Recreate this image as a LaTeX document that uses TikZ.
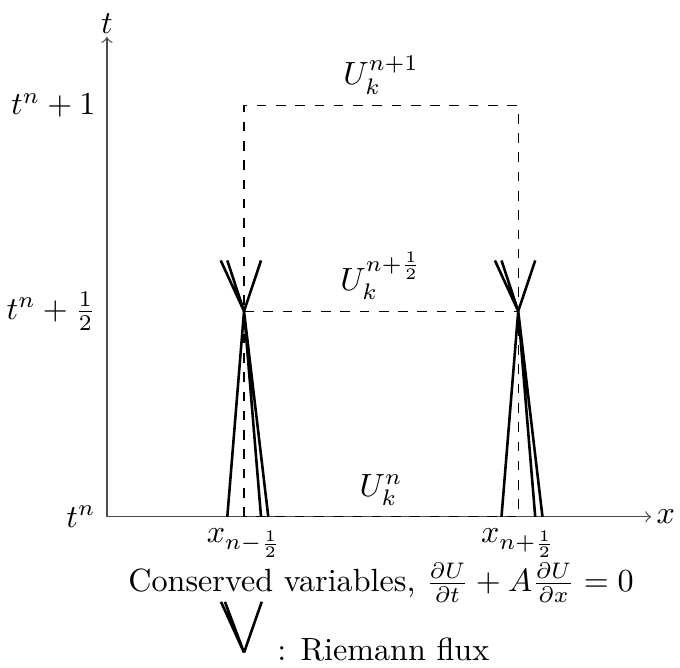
\documentclass[tikz,border=0pt]{standalone}
\usepackage{amsmath}
\begin{document}
\begin{tikzpicture}[x=1.5cm,y=1.5cm]
		\tikzset{fan/.style={thick},axis/.style={->,black!70}}
		\useasboundingbox (-0.78,-1.10) rectangle (4.18,3.77);
		\coordinate (O) at (0,0);
		\coordinate (xend) at (3.97,0);
		\coordinate (tend) at (0,3.5);
		\coordinate (L0) at (1,0); \coordinate (R0) at (3,0);
		\coordinate (L1) at (1,1.5); \coordinate (R1) at (3,1.5);
		\coordinate (L2) at (1,3); \coordinate (R2) at (3,3);
		\draw[axis] (O) -- (xend) node[right,text=black,inner sep=1.5pt]{$x$};
		\draw[axis] (O) -- (tend) node[above,text=black,inner sep=1pt]{$t$};
		\draw[dashed] (L0) -- (L2) -- (R2) -- (R0) -- cycle;
		\draw[dashed] (L1) -- (R1);
		% Riemann fans at the cell interfaces
		\foreach \p in {L1,R1}{
			\draw[fan] (\p) -- ++(-0.17,0.37) (\p) -- ++(-0.122,0.37) (\p) -- ++(0.124,0.37);
			\draw[fan] (\p) -- ++(-0.122,-1.5) (\p) -- ++(0.124,-1.5) (\p) -- ++(0.177,-1.5);
		}
		\node[left] (tn) at (O) {$t^n$};
		\node[left] (tnh) at (0,1.5) {$t^n + \frac{1}{2}$};
		\node[left] (tn1) at (0,3) {$t^n + 1$};
		\node[below] (xl) at (L0) {$x_{n-\frac{1}{2}}$};
		\node[below] (xr) at (R0) {$x_{n+\frac{1}{2}}$};
		\node[above] (Un) at (2,0) {$U_k^n$};
		\node[above] (Unh) at (2,1.5) {$U_k^{n+\frac{1}{2}}$};
		\node[above] (Un1) at (2,3) {$U_k^{n+1}$};
		\node (cons) at (2,-0.48) {Conserved variables, $\frac{\partial U}{\partial t} + A\frac{\partial U}{\partial x} = 0$};
		% legend
		\coordinate (leg) at (1,-0.99);
		\draw[fan] (leg) -- ++(-0.168,0.37) (leg) -- ++(-0.139,0.37) (leg) -- ++(0.129,0.37);
		\node[anchor=west] (flux) at (1.16,-0.97) {: Riemann flux};
\end{tikzpicture}
\end{document}
